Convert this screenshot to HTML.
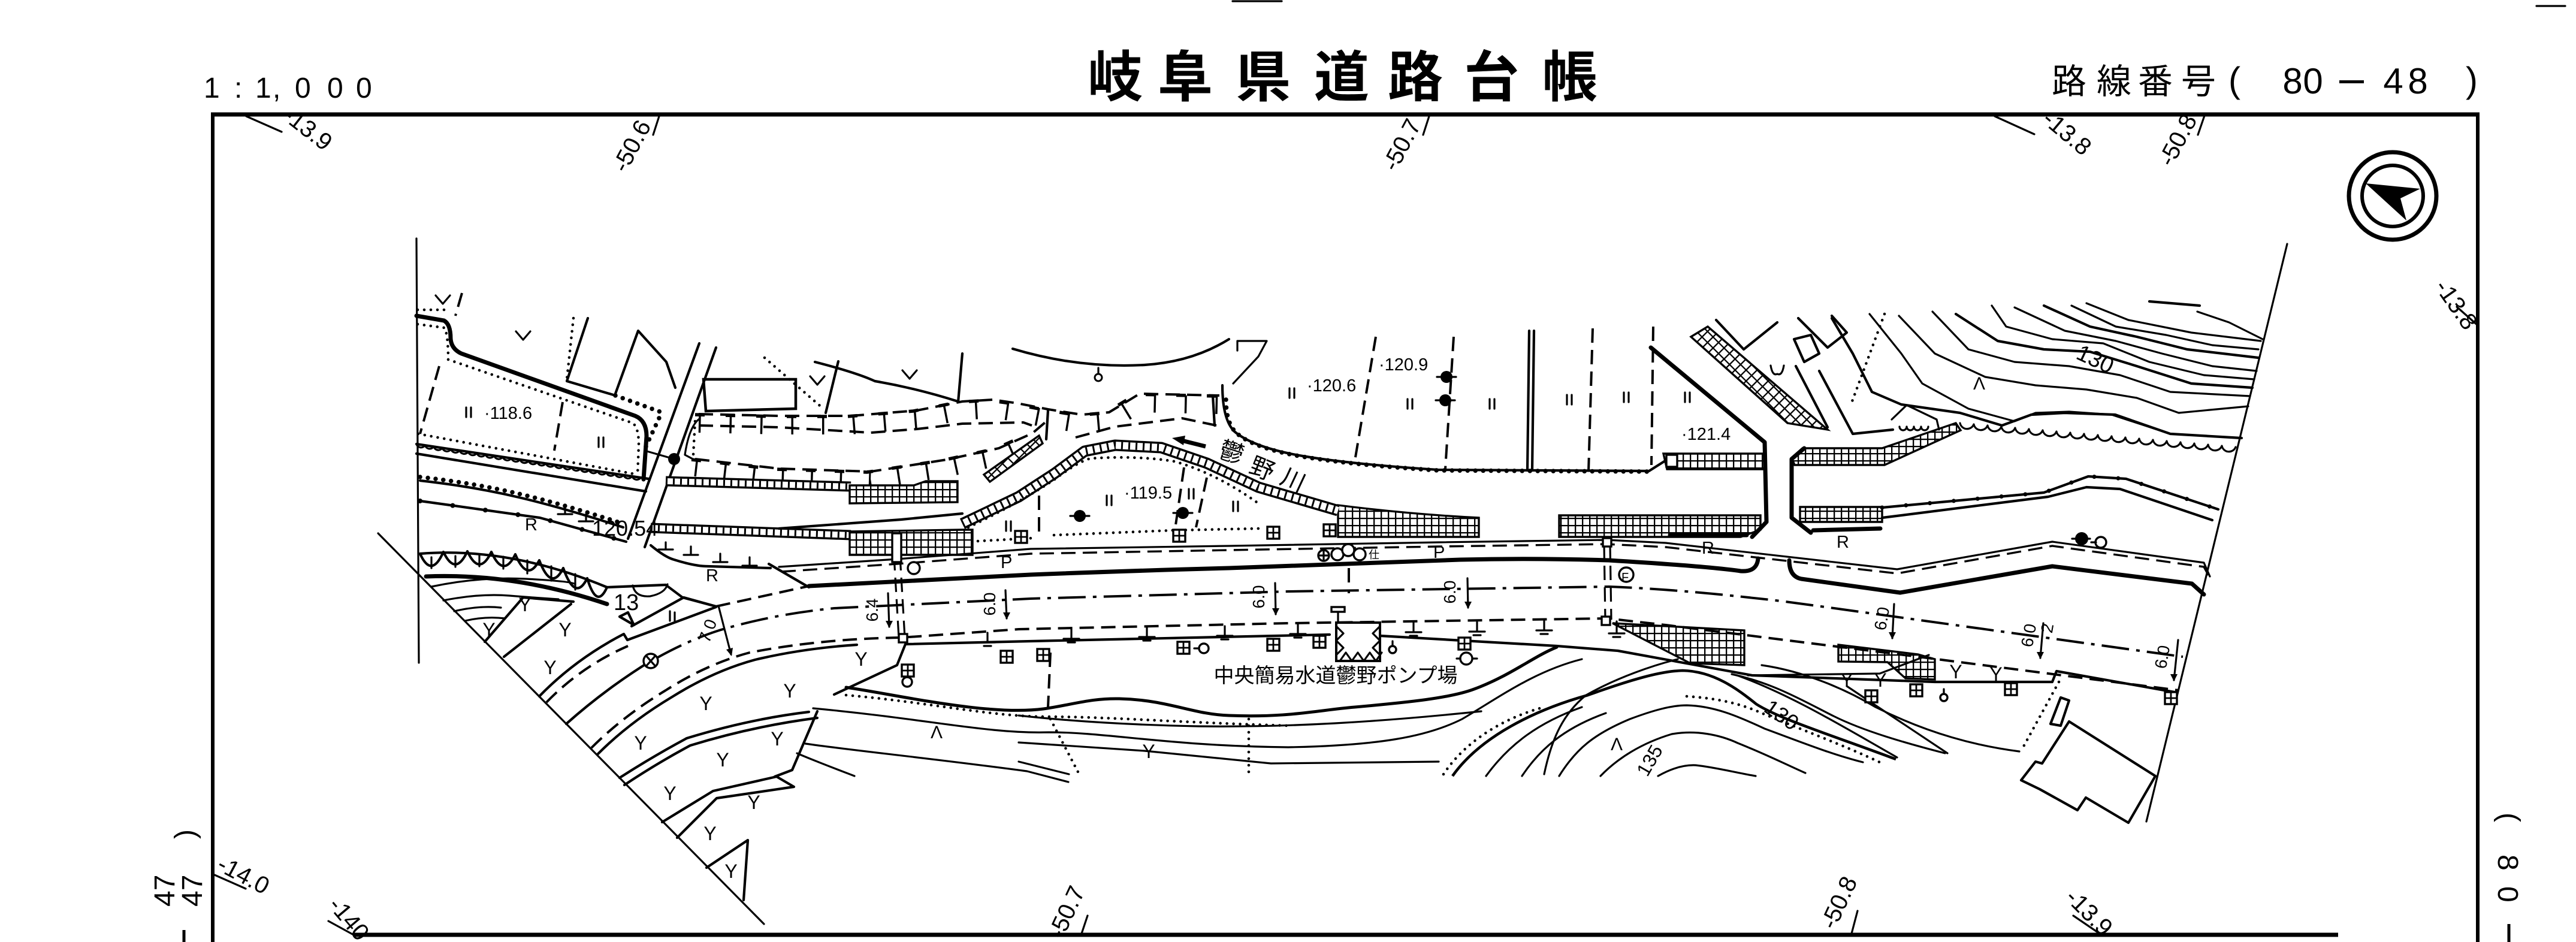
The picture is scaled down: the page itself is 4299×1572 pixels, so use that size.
<!DOCTYPE html>
<html><head><meta charset="utf-8">
<style>
html,body{margin:0;padding:0;background:#fff;}
svg{display:block;}
text{font-family:"Liberation Sans","Noto Sans CJK JP",sans-serif;fill:#000;}
.l{fill:none;stroke:#000;stroke-width:4.2;stroke-linejoin:round;stroke-linecap:round}
.t{fill:none;stroke:#000;stroke-width:3.2;stroke-linejoin:round;stroke-linecap:round}
.k{fill:none;stroke:#000;stroke-width:7;stroke-linejoin:round;stroke-linecap:round}
.d{fill:none;stroke:#000;stroke-width:4;stroke-dasharray:24 12}
.dd{fill:none;stroke:#000;stroke-width:4;stroke-dasharray:46 12 6 12}
.dt{fill:none;stroke:#000;stroke-width:4.6;stroke-dasharray:0 11;stroke-linecap:round}
.sc{fill:none;stroke:#000;stroke-width:7.5;stroke-dasharray:0 13;stroke-linecap:round}
.bl{fill:none;stroke:#000;stroke-width:8;stroke-dasharray:0 55;stroke-linecap:round}
.g{fill:url(#g);stroke:#000;stroke-width:3.4}
.gd{fill:url(#gd);stroke:#000;stroke-width:3.4}
.y{font-size:32px;text-anchor:middle}
.s{font-size:29px}
</style></head><body>
<svg width="4299" height="1572" viewBox="0 0 4299 1572" xmlns="http://www.w3.org/2000/svg">
<defs>
<pattern id="g" patternUnits="userSpaceOnUse" width="12" height="12"><rect width="12" height="12" fill="#fff"/><path d="M0 1H12M1 0V12" stroke="#000" stroke-width="2.6"/></pattern>
<pattern id="gd" patternUnits="userSpaceOnUse" width="13" height="13" patternTransform="rotate(45)"><rect width="13" height="13" fill="#fff"/><path d="M0 1H13M1 0V13" stroke="#000" stroke-width="2.6"/></pattern>
</defs>
<rect width="4299" height="1572" fill="#fff"/>

<!-- ===== HEADER ===== -->
<g font-size="48">
<text x="340" y="163">1</text><text x="391" y="163">:</text><text x="426" y="163">1</text><text x="455" y="163">,</text><text x="492" y="163">0</text><text x="546" y="163">0</text><text x="594" y="163">0</text>
</g>
<g font-size="92" font-weight="bold" text-anchor="middle" style="font-family:'Noto Sans CJK JP','Noto Sans CJK SC',sans-serif">
<text x="1861" y="161">岐</text><text x="1978" y="161">阜</text><text x="2108" y="161">県</text><text x="2239" y="161">道</text><text x="2362" y="161">路</text><text x="2489" y="161">台</text><text x="2620" y="161">帳</text>
</g>
<g font-size="58" text-anchor="middle" style="font-family:'Noto Sans CJK JP','Noto Sans CJK SC',sans-serif">
<text x="3453" y="156">路</text><text x="3528" y="156">線</text><text x="3597" y="156">番</text><text x="3669" y="156">号</text>
</g>
<g font-size="60" text-anchor="middle">
<text x="3729" y="154">(</text><text x="3826" y="156">8</text><text x="3860" y="156">0</text><text x="3994" y="156">4</text><text x="4035" y="156">8</text><text x="4125" y="154">)</text>
</g>
<rect x="3904" y="134" width="41" height="5"/>
<path class="t" d="M2057 2H2139M4233 10H4281"/>

<!-- ===== FRAME ===== -->
<path d="M352 191H4138" stroke="#000" stroke-width="7"/>
<path d="M355 188V1572" stroke="#000" stroke-width="6"/>
<path d="M4135 188V1572" stroke="#000" stroke-width="6"/>
<path d="M590 1560H3902" stroke="#000" stroke-width="7"/>

<!-- side texts -->
<g font-size="48">
<text transform="translate(337,1513) rotate(-90)">47</text>
<text transform="translate(291,1513) rotate(-90)">47</text>
<text transform="translate(325,1400) rotate(-90)">)</text>
<text transform="translate(4172,1356) rotate(90)">(</text>
<text transform="translate(4169,1426) rotate(90)">8</text>
<text transform="translate(4169,1479) rotate(90)">0</text>
</g>
<path d="M307 1552V1572M4187 1542V1572" stroke="#000" stroke-width="5"/>

<!-- grid labels -->
<g font-size="40" text-anchor="middle">
<text transform="translate(505,225) rotate(38)">-13.9</text>
<text transform="translate(1066,250) rotate(-62)">-50.6</text>
<text transform="translate(2351,248) rotate(-62)">-50.7</text>
<text transform="translate(3441,232) rotate(40)">-13.8</text>
<text transform="translate(3646,240) rotate(-62)">-50.8</text>
<text transform="translate(4088,516) rotate(55)">-13.8</text>
<text transform="translate(400,1472) rotate(28)">-14.0</text>
<text transform="translate(572,1542) rotate(50)">-140</text>
<text transform="translate(1792,1528) rotate(-65)">-50.7</text>
<text transform="translate(3081,1512) rotate(-65)">-50.8</text>
<text transform="translate(3477,1532) rotate(45)">-13.9</text>
</g>
<path class="t" d="M411 194L470 220M1100 194L1090 225M2385 194L2375 225M3329 194L3395 224M3679 193L3668 225M4100 512L4135 543M358 1460L410 1483M548 1537L590 1560M1815 1528L1805 1558M3100 1520L3090 1558M3460 1528L3507 1560"/>

<!-- compass -->
<circle cx="3993" cy="327" r="73" fill="none" stroke="#000" stroke-width="7"/>
<circle cx="3993" cy="327" r="51" fill="none" stroke="#000" stroke-width="6"/>
<path d="M3948 306L4039 315L4006 331L4016 368Z" fill="#000"/>

<!-- ===== DRAWING BOUNDARIES ===== -->
<path class="t" d="M695 398L699 1106"/>
<path class="t" d="M631 890L1275 1542"/>
<path class="t" d="M3817 407L3582 1371"/>

<!-- ===== UPPER LEFT PARCELS ===== -->
<path class="k" d="M695 527L741 535Q752 541 752 565Q753 582 770 590L1060 694Q1079 702 1079 728L1074 800"/>
<path class="dt" d="M697 541L742 547Q748 560 748 600L1056 706Q1066 714 1066 742L1064 792"/>
<path class="dt" d="M697 517L752 517"/>
<path class="d" d="M771 489L760 527M733 611L701 724M939 671L925 752"/>
<path class="dt" d="M957 531L946 633"/>
<path class="l" d="M981 531L946 636L1027 660"/>
<path class="sc" d="M1027 660L1104 688"/>
<path class="l" d="M1027 657L1065 552L1112 604L1127 647"/>
<path class="dt" d="M698 724L1064 792"/>
<path class="l" d="M695 741L1082 799"/>
<path class="t" d="M695 741a8 8 0 0 0 14.4 2.15a8 8 0 0 0 14.4 2.15a8 8 0 0 0 14.4 2.15a8 8 0 0 0 14.4 2.15a8 8 0 0 0 14.4 2.15a8 8 0 0 0 14.4 2.15a8 8 0 0 0 14.4 2.15a8 8 0 0 0 14.4 2.15a8 8 0 0 0 14.4 2.15a8 8 0 0 0 14.4 2.15a8 8 0 0 0 14.4 2.15a8 8 0 0 0 14.4 2.15a8 8 0 0 0 14.4 2.15a8 8 0 0 0 14.4 2.15a8 8 0 0 0 14.4 2.15a8 8 0 0 0 14.4 2.15a8 8 0 0 0 14.4 2.15a8 8 0 0 0 14.4 2.15a8 8 0 0 0 14.4 2.15a8 8 0 0 0 14.4 2.15a8 8 0 0 0 14.4 2.15a8 8 0 0 0 14.4 2.15a8 8 0 0 0 14.4 2.15a8 8 0 0 0 14.4 2.15a8 8 0 0 0 14.4 2.15a8 8 0 0 0 14.4 2.15"/>
<path class="l" d="M695 757L1078 820"/>
<!-- S2 -->
<path class="l" d="M701 802Q790 812 866 830T1040 880"/>
<path class="sc" transform="translate(0,-6)" d="M701 802Q790 812 866 830T1040 880"/>
<path class="l" d="M701 836L901 864L1045 904"/>
<path class="bl" d="M701 836L901 864L1045 904"/>
<!-- V marks -->
<path class="t" d="M727 493L739 507L751 493M861 553L873 567L885 553M1352 628L1364 642L1376 628M1506 618L1518 632L1530 618"/>
<path class="dt" d="M1276 597L1374 682"/>
<path class="l" d="M1399 603L1378 689M1606 590L1599 671"/>
<path class="l" d="M1360 604Q1430 622 1460 636Q1530 648 1599 670"/>
<path class="l" d="M1690 582Q1800 615 1910 609Q1990 604 2051 566"/>
<circle cx="1833" cy="630" r="6" fill="none" stroke="#000" stroke-width="3"/><path class="t" d="M1833 614V622"/>
<path d="M1174 633H1328V682L1178 686Z" fill="none" stroke="#000" stroke-width="4.5"/>
<!-- crossing -->
<path class="l" d="M1167 573L1048 899M1195 580L1076 913"/>
<path class="t" d="M1076 752L1125 766M1167 699Q1150 712 1143 759L1160 768"/>
<path class="sc" d="M1078 745L1104 689"/>
<circle cx="1125" cy="766" r="10"/>

<!-- T bands -->
<path class="d" d="M1166 691L1300 694L1420 694L1530 685L1606 670L1657 667L1698 673L1749 683L1805 692L1851 688L1902 657L2035 660"/>
<path fill="none" stroke="#000" stroke-width="30" stroke-dasharray="3.5 48" transform="translate(0,16)" d="M1166 691L1300 694L1420 694L1530 685L1606 670L1657 667L1698 673L1749 683L1805 692L1851 688L1902 657L2035 660"/>
<path fill="none" stroke="#000" stroke-width="5.5" stroke-dasharray="16 35" transform="translate(-6,1)" d="M1166 691L1300 694L1420 694L1530 685L1606 670L1657 667L1698 673L1749 683L1805 692L1851 688L1902 657L2035 660"/>
<path class="d" d="M1166 710L1300 713L1453 722L1530 716L1606 707L1708 705L1722 710"/>
<path class="d" d="M1795 730L1861 712L1973 698L2030 710"/>
<path class="l" d="M1749 685L1746 733M2024 660L2027 710"/>
<path class="d" d="M1160 766L1300 782L1453 787L1580 767L1667 748L1723 723L1750 700"/>
<path fill="none" stroke="#000" stroke-width="28" stroke-dasharray="3.5 45" transform="translate(0,15)" d="M1160 766L1300 782L1453 787L1580 767L1667 748L1723 723"/>
<path fill="none" stroke="#000" stroke-width="5.5" stroke-dasharray="16 32" transform="translate(-6,1)" d="M1160 766L1300 782L1453 787L1580 767L1667 748L1723 723"/>
<path class="dt" d="M1160 703L1157 759"/>

<!-- hatched strips -->
<path fill="none" stroke="#000" stroke-width="17" d="M1111 803L1420 812"/>
<path fill="none" stroke="#fff" stroke-width="10" d="M1111 803L1420 812"/>
<path fill="none" stroke="#000" stroke-width="10" stroke-dasharray="3 9" d="M1111 803L1420 812"/>
<path class="g" d="M1418 810L1525 810L1545 803L1598 803L1598 838L1418 840Z"/>
<path fill="none" stroke="#000" stroke-width="17" d="M1086 881L1420 893"/>
<path fill="none" stroke="#fff" stroke-width="10" d="M1086 881L1420 893"/>
<path fill="none" stroke="#000" stroke-width="10" stroke-dasharray="3 9" d="M1086 881L1420 893"/>
<path class="g" d="M1418 887L1606 884L1623 884L1623 926L1418 926Z"/>
<path class="gd" d="M1642 792L1734 727L1740 740L1652 804Z"/>
<path class="g" d="M2233 843Q2350 858 2468 864L2468 896L2233 896Z"/>
<path class="g" d="M2602 860L2938 860L2938 884L2905 896L2602 896Z"/>
<path class="g" d="M2776 757L2945 757L2945 783L2782 783Z"/>
<path class="g" d="M2990 764L3008 748L3141 748L3264 706L3272 718L3145 776L2995 776Z"/>
<path class="g" d="M3004 846L3141 846L3141 871L3004 871Z"/>
<path class="g" d="M2691 1040L2911 1052L2911 1110L2821 1107Z"/>
<path class="g" d="M3068 1076L3201 1092L3229 1100L3229 1134L3180 1132L3150 1105L3068 1104Z"/>
<path class="gd" d="M2822 562L2850 545L3050 717L2983 706Z"/>
<!-- river lower bank ladder -->
<path fill="none" stroke="#000" stroke-width="19" stroke-linejoin="round" d="M1606 874L1700 829L1760 790L1810 753L1861 743L1938 747L2014 773L2100 813L2233 852"/>
<path fill="none" stroke="#fff" stroke-width="12" stroke-linejoin="round" d="M1606 874L1700 829L1760 790L1810 753L1861 743L1938 747L2014 773L2100 813L2233 852"/>
<path fill="none" stroke="#000" stroke-width="12" stroke-dasharray="3 9" d="M1606 874L1700 829L1760 790L1810 753L1861 743L1938 747L2014 773L2100 813L2233 852"/>
<path class="l" d="M1300 882L1504 867L1606 857"/>
<path class="dt" d="M1616 880Q1700 840 1760 800Q1800 770 1820 765Q1900 760 1960 770Q2030 790 2100 840"/>
<path class="dt" d="M1632 903L1723 898M1759 893L1958 885L2100 882"/>
<path class="d" d="M1734 827L1734 893M1976 780L1961 883M2014 797L1996 880"/>

<!-- river upper bank -->
<path class="l" d="M2040 643Q2040 700 2060 720Q2093 748 2180 762Q2260 775 2400 784L2752 786L2790 762"/>
<path class="sc" transform="translate(0,7)" d="M2046 660Q2046 700 2064 716Q2093 742 2180 756Q2260 769 2400 778L2752 780"/>
<path class="t" d="M2058 640L2100 595L2114 569L2065 569M2065 569V585"/>
<!-- river arrow and name -->
<path d="M2012 745L1972 735" stroke="#000" stroke-width="7"/>
<path d="M1956 731L1978 727L1975 743Z" fill="#000"/>
<g font-size="40" text-anchor="middle" style="font-family:'Noto Sans CJK JP',sans-serif">
<text transform="translate(2051,768) rotate(18)">鬱</text>
<text transform="translate(2101,795) rotate(22)">野</text>
<text transform="translate(2152,814) rotate(25)">川</text>
</g>

<!-- parcel verticals upper middle -->
<path class="d" d="M2296 562L2261 769M2426 562L2412 783M2658 548L2651 787M2759 545L2756 776"/>
<path class="l" d="M2552 552L2549 785M2560 552L2557 785"/>

<!-- side road -->
<path class="k" d="M2755 580L2945 738L2948 871L2924 896"/>
<path class="k" d="M3011 748L2990 766L2990 864L3022 889"/>
<path class="k" d="M2787 893L2915 893M3026 885L3138 882"/>

<!-- upper right details -->
<path class="l" d="M2864 534L2910 583L2966 538"/>
<path class="l" d="M2994 566L3022 559L3036 590L3011 604Z"/>
<path class="l" d="M3001 531L3050 580L3082 555L3057 527"/>
<path class="t" d="M2955 610q3 18 11 14q8 4 11 -14"/>
<path class="l" d="M2997 611L3050 713M3036 619L3092 724L3159 717"/>
<path class="dt" d="M3145 524L3089 675"/>
<path class="t" d="M3157 700L3182 676L3232 700L3236 717M3170 712a6 6 0 0 0 12 0a6 6 0 0 0 12 0a6 6 0 0 0 12 0a6 6 0 0 0 12 0"/>
<!-- contours upper right -->
<g class="t">
<path class="l" d="M3057 531L3092 590L3124 654L3173 675L3271 689L3341 710L3390 692L3446 689L3530 692L3622 724L3741 731"/>
<path d="M3120 524L3173 590L3208 640L3285 682L3362 703L3397 689L3453 687L3524 692L3622 724"/>
<path d="M3169 527L3229 590L3313 629L3397 643L3482 650L3566 664L3636 689L3752 678"/>
<path d="M3225 520L3285 583L3362 604L3453 611L3538 626L3622 654L3755 661"/>
<path class="l" d="M3264 524L3334 569L3411 583L3488 587L3566 611L3657 640L3759 647"/>
<path d="M3324 510L3348 545L3425 566L3510 573L3587 604L3678 626L3762 633"/>
<path d="M3362 513L3446 552L3531 569L3608 590L3692 611L3766 619"/>
<path class="l" d="M3411 510L3488 545L3566 562L3650 583L3769 597"/>
<path d="M3457 510L3531 545L3615 559L3692 576L3769 583"/>
<path d="M3482 506L3552 534L3657 555L3773 569"/>
<path class="l" d="M3587 503L3671 510"/>
<path d="M3667 520L3720 538L3776 566"/>
</g>
<path class="t" d="M3271 706a12 12 0 0 0 23 2a12 12 0 0 0 23 2a12 12 0 0 0 23 2a12 12 0 0 0 23 2a12 12 0 0 0 23 2a12 12 0 0 0 23 2a12 12 0 0 0 23 2a12 12 0 0 0 23 2a12 12 0 0 0 23 2a12 12 0 0 0 23 2a12 12 0 0 0 23 2a12 12 0 0 0 23 2a12 12 0 0 0 23 2a12 12 0 0 0 23 2a12 12 0 0 0 23 2a12 12 0 0 0 23 2a12 12 0 0 0 23 2a12 12 0 0 0 23 2a12 12 0 0 0 23 2a12 12 0 0 0 23 2"/>
<text x="3496" y="612" font-size="38" transform="rotate(25 3496 601)" text-anchor="middle">130</text>
<text x="3303" y="650" font-size="30" text-anchor="middle">Λ</text>
<!-- right river lines -->
<path class="l" d="M3141 847L3411 822L3485 795L3548 799L3702 850"/>
<path class="l" d="M3141 864L3418 829L3482 813L3538 816L3692 868"/>
<path class="bl" style="stroke-dasharray:0 40;stroke-width:7" d="M3141 847L3411 822L3485 795L3548 799L3702 850"/>

<!-- ===== ROAD ===== -->
<!-- P strip -->
<path class="t" d="M1300 946L1497 933L1720 916L2051 911L2401 905L2682 901L2780 906L3166 950L3425 904L3678 939L3688 962"/>
<path class="d" style="stroke-width:3.4" d="M1304 954L1497 941L1720 924L2051 918L2401 912L2682 908L2780 913L3166 957L3425 911L3678 946L3690 968"/>
<path class="l" d="M1283 941L1350 980"/>
<!-- U -->
<path class="l" d="M900 1162Q960 1100 1041 1058L1047 1068L1195 1013"/>
<path class="d" d="M912 1172Q970 1112 1048 1078"/>
<path class="l" d="M1054 1045L1141 997L1195 1012"/>
<path class="d" d="M1195 1012L1350 978"/>
<path class="k" d="M1350 978L1720 959Q1900 952 2051 948L2437 934Q2560 931 2685 935Q2850 945 2905 953Q2932 955 2934 932"/>
<path class="k" d="M2986 935Q2986 962 3006 966L3171 989L3425 945L3658 974L3678 992"/>
<!-- center line -->
<path class="l" d="M945 1208Q1010 1150 1086 1103"/>
<path class="dd" d="M1096 1098Q1150 1068 1200 1052Q1290 1025 1392 1015L1720 999L2150 987L2685 979Q2800 983 2972 1003L3061 1015L3643 1096"/>
<!-- L lower edge -->
<path class="d" d="M987 1248Q1040 1195 1111 1152Q1180 1108 1251 1089Q1370 1066 1504 1064L1700 1050L2150 1040L2682 1032L2780 1043L3201 1096L3636 1152"/>
<path class="l" d="M998 1258Q1050 1206 1120 1164Q1190 1120 1260 1101Q1340 1082 1430 1076"/>
<path class="l" d="M1392 1159L1497 1110L1511 1075L1720 1070L2219 1059M2303 1061L2598 1078L2700 1086L2924 1127L3229 1138L3425 1138L3432 1120L3629 1155"/>
<path class="t" d="M2917 1127L3137 1124L3219 1093M3082 1145L3250 1257"/>
<!-- transverse lines -->
<path class="d" style="stroke-width:3.2" d="M1492 928L1500 1064M1502 928L1510 1064M2677 908L2679 1034M2687 908L2689 1034"/>
<rect x="1489" y="890" width="15" height="48" fill="#fff" stroke="#000" stroke-width="3.4"/>
<rect x="1500" y="1058" width="14" height="14" fill="#fff" stroke="#000" stroke-width="3.4"/>
<rect x="2675" y="898" width="14" height="14" fill="#fff" stroke="#000" stroke-width="3.4"/>
<rect x="2673" y="1029" width="14" height="14" fill="#fff" stroke="#000" stroke-width="3.4"/>
<path class="d" d="M1753 1089L1749 1180M2251 948L2251 990"/>
<!-- ⊥ markers -->
<g class="t" stroke-width="3.4">
<path d="M1648 1056v16m-13 0h26m-19 6h12"/><path d="M1788 1050v16m-13 0h26m-19 6h12"/><path d="M1914 1047v16m-13 0h26m-19 6h12"/><path d="M2044 1045v16m-13 0h26m-19 6h12"/><path d="M2166 1042v16m-13 0h26m-19 6h12"/><path d="M2359 1039v16m-13 0h26m-19 6h12"/><path d="M2465 1038v16m-13 0h26m-19 6h12"/><path d="M2577 1036v16m-13 0h26m-19 6h12"/><path d="M2698 1037v20m-13 0h26m-19 6h12"/>
<path d="M1111 905v12m-12 0h24M1153 912v14m-12 0h24M1202 924v14m-12 0h24M1251 930v14m-12 0h24M943 846v12m-12 0h24M978 858v12m-12 0h24"/>
</g>
<!-- R curve -->
<path class="l" d="M1086 910Q1110 930 1125 934Q1160 945 1181 945L1286 948"/>
<!-- squares -->
<g fill="#fff" stroke="#000" stroke-width="3.4">
<rect x="1694" y="886" width="20" height="20"/><rect x="1958" y="884" width="20" height="20"/><rect x="2115" y="879" width="20" height="20"/><rect x="2209" y="875" width="20" height="20"/><rect x="2781" y="759" width="18" height="20"/>
<rect x="1505" y="1109" width="20" height="20"/><rect x="1670" y="1086" width="20" height="20"/><rect x="1731" y="1083" width="20" height="20"/><rect x="1965" y="1071" width="20" height="20"/><rect x="2115" y="1066" width="20" height="20"/><rect x="2192" y="1061" width="20" height="20"/><rect x="2434" y="1064" width="20" height="20"/><rect x="3113" y="1152" width="20" height="20"/><rect x="3188" y="1142" width="20" height="20"/><rect x="3346" y="1140" width="20" height="20"/><rect x="3613" y="1155" width="20" height="20"/>
</g>
<path stroke="#000" stroke-width="2.8" d="M1704 886v20M1694 896h20M1968 884v20M1958 894h20M2125 879v20M2115 889h20M2219 875v20M2209 885h20M1515 1109v20M1505 1119h20M1680 1086v20M1670 1096h20M1741 1083v20M1731 1093h20M1975 1071v20M1965 1081h20M2125 1066v20M2115 1076h20M2202 1061v20M2192 1071h20M2444 1064v20M2434 1074h20M3123 1152v20M3113 1162h20M3198 1142v20M3188 1152h20M3356 1140v20M3346 1150h20M3623 1155v20M3613 1165h20"/>
<!-- circles -->
<g fill="#fff" stroke="#000" stroke-width="3.4">
<circle cx="1514" cy="1138" r="8"/><circle cx="2009" cy="1082" r="8"/><circle cx="2324" cy="1084" r="6"/><circle cx="2447" cy="1099" r="10"/>
<circle cx="2209" cy="927" r="9"/><circle cx="2232" cy="925" r="10"/><circle cx="2250" cy="918" r="10"/><circle cx="2269" cy="925" r="10"/>
<circle cx="2714" cy="959" r="12"/><circle cx="1525" cy="948" r="10"/><circle cx="1086" cy="1103" r="12"/><circle cx="3506" cy="905" r="9"/><circle cx="3244" cy="1164" r="6"/>
</g>
<path class="t" d="M1993 1082h8M2324 1070v8M2431 1099h6M2457 1099h8M3490 905h8M3244 1150v8M1078 1094l16 18M1094 1094l-16 18M2201 927h16M2209 919v16"/>
<text x="2706" y="970" font-size="20">F</text>
<text x="2284" y="932" font-size="18" style="font-family:'Noto Sans CJK JP',sans-serif">仕</text>
<g fill="#000">
<circle cx="1802" cy="861" r="10"/><circle cx="1974" cy="856" r="10"/><circle cx="2414" cy="629" r="10"/><circle cx="2412" cy="668" r="10"/><circle cx="3474" cy="899" r="11"/>
</g>
<path class="t" d="M1786 861h32M1958 856h32M2398 629h32M2396 668h32M3458 899h30"/>
<!-- pump station -->
<rect x="2230" y="1039" width="73" height="64" fill="none" stroke="#000" stroke-width="4"/>
<path class="t" d="M2230 1045l12 12l-12 12l12 12l-12 12M2303 1045l-12 12l12 12l-12 12l12 12M2236 1103l10 -14l10 14l10 -14l10 14l10 -14l10 14l10 -14"/>
<rect x="2222" y="1013" width="22" height="8" fill="none" stroke="#000" stroke-width="3.4"/>
<path class="t" d="M2233 1021V1039"/>

<!-- ===== LOWER LEFT (cliff, Y fields) ===== -->
<path class="l" d="M701 924Q850 912 1013 980"/>
<path class="l" d="M701 924Q720 966 740 921Q760 963 780 920Q800 963 820 921Q840 966 860 925Q880 973 900 935Q920 988 940 948Q960 1005 980 965Q996 1018 1013 980"/>
<path class="t" d="M720 930v18M760 928v18M800 927v18M840 929v20M880 935v22M920 945v24M960 958v26"/>
<path class="k" d="M711 962Q860 956 1013 1008"/>
<path class="l" d="M1013 980L1111 976L1139 997L1195 1012"/>
<path class="t" d="M1056 977Q1060 997 1085 995Q1110 990 1114 975"/>
<path class="l" d="M1034 1029L1058 1043L1048 1022Z"/>
<path class="t" d="M720 979Q800 962 878 966T960 975M740 1002Q800 990 850 994T932 1000M758 1020Q800 1010 836 1014M776 1036Q810 1028 843 1032"/>
<path class="l" d="M809 1071L873 997L957 1004M841 1096L953 1008"/>
<path class="l" d="M1034 1298Q1090 1262 1146 1232Q1250 1200 1350 1188"/>
<path class="l" d="M1042 1310Q1096 1274 1152 1244Q1256 1212 1364 1198"/>
<path class="l" d="M1364 1187L1322 1285L1293 1296"/>
<path class="l" d="M1105 1372L1190 1320L1296 1296L1325 1313L1196 1332L1130 1398"/>
<path class="l" d="M1179 1448L1248 1402L1241 1502"/>
<g class="y">
<text x="816" y="1062">Y</text><text x="876" y="1020">Y</text><text x="943" y="1062">Y</text><text x="918" y="1125">Y</text><text x="1178" y="1185">Y</text><text x="1318" y="1164">Y</text><text x="1437" y="1111">Y</text><text x="1069" y="1251">Y</text><text x="1206" y="1279">Y</text><text x="1297" y="1244">Y</text><text x="1118" y="1335">Y</text><text x="1258" y="1350">Y</text><text x="1185" y="1402">Y</text><text x="1220" y="1465">Y</text><text x="1917" y="1265">Y</text><text x="3082" y="1146">Y</text><text x="3138" y="1146">Y</text><text x="3264" y="1132">Y</text><text x="3331" y="1136">Y</text>
</g>

<!-- ===== CONTOURS LOWER MIDDLE ===== -->
<path fill="none" stroke="#000" stroke-width="5" stroke-linecap="round" d="M1412 1147C1500 1160 1650 1195 1741 1183C1790 1176 1820 1165 1868 1166C1950 1168 1990 1192 2051 1194C2150 1198 2200 1185 2261 1180C2350 1172 2420 1165 2460 1150C2520 1128 2560 1095 2598 1080"/>
<path class="dt" d="M1412 1160C1550 1172 1650 1195 1741 1196C1850 1196 1950 1205 2150 1211"/>
<path class="t" d="M1357 1182C1550 1200 1650 1225 1750 1222C1850 1222 1950 1245 2150 1247C2300 1244 2380 1230 2440 1200C2500 1165 2560 1120 2640 1100"/>
<path class="t" d="M1700 1194C1800 1205 1900 1210 2000 1212C2150 1214 2300 1205 2472 1187"/>
<path class="t" d="M1344 1241C1420 1252 1550 1265 1714 1287L1783 1305M1330 1257C1360 1270 1400 1285 1426 1295"/>
<path class="t" d="M1700 1239L1910 1253L2121 1274L2401 1271M1700 1271L1784 1292"/>
<path class="dt" d="M2084 1200L2084 1292M1753 1200L1800 1290"/>
<text x="1563" y="1232" font-size="30" text-anchor="middle">Λ</text>
<!-- hill -->
<path class="dt" d="M2409 1292C2450 1230 2520 1195 2577 1180"/>
<path fill="none" stroke="#000" stroke-width="4.6" d="M2424 1295C2470 1230 2560 1185 2650 1160C2720 1135 2770 1120 2808 1119C2860 1120 2900 1150 2931 1175C2970 1200 3060 1228 3164 1267"/>
<path class="t" d="M2602 1295C2630 1250 2660 1225 2720 1200C2760 1185 2790 1177 2815 1177C2860 1178 2900 1195 2945 1216C3010 1240 3060 1260 3109 1272"/>
<path class="t" d="M2671 1295C2700 1265 2740 1240 2790 1225C2830 1218 2870 1226 2900 1240C2950 1260 2990 1280 3013 1290"/>
<path class="t" d="M2767 1295C2790 1282 2810 1276 2830 1277C2860 1280 2900 1290 2930 1295"/>
<path class="t" d="M2480 1295C2520 1240 2570 1205 2640 1180M2540 1295C2570 1250 2610 1215 2680 1190M2577 1292C2590 1230 2610 1190 2647 1160C2700 1130 2760 1110 2800 1100"/>
<path class="t" d="M2890 1125C2960 1140 3010 1170 3060 1195C3110 1220 3180 1240 3246 1257M2940 1110C3010 1120 3080 1150 3130 1180C3220 1225 3300 1245 3370 1254"/>
<path class="dt" d="M2815 1162C2860 1165 2900 1172 2940 1190C3000 1215 3080 1245 3137 1272"/>
<text x="2972" y="1205" font-size="36" transform="rotate(35 2972 1195)" text-anchor="middle">130</text>
<text x="2753" y="1280" font-size="32" transform="rotate(-60 2753 1269)" text-anchor="middle">135</text>
<text x="2698" y="1252" font-size="30" text-anchor="middle">Λ</text>
<!-- building lower right -->
<path class="l" d="M3453 1204L3597 1295L3552 1373L3481 1331L3467 1352L3404 1317L3373 1302L3397 1271L3408 1274Z"/>
<path class="l" d="M3422 1208L3439 1211L3453 1169L3439 1164Z"/>
<path class="dt" d="M3436 1138L3373 1253"/>
<path class="t" d="M2899 1127C2990 1160 3080 1215 3166 1264"/>

<!-- ===== LABELS ===== -->
<path class="t" d="M778 680v16M786 680v16M999 730v16M1007 730v16M1679 870v16M1687 870v16M1847 827v16M1855 827v16M1984 816v16M1992 816v16M2058 837v16M2066 837v16M2152 648v16M2160 648v16M2349 666v16M2357 666v16M2486 666v16M2494 666v16M2615 659v16M2623 659v16M2710 655v16M2718 655v16M2812 655v16M2820 655v16M1118 1020v16M1126 1022v14"/>
<g class="s">
<text x="808" y="699">·118.6</text>
<text x="1876" y="832">·119.5</text>
<text x="2301" y="618">·120.9</text>
<text x="2181" y="653">·120.6</text>
<text x="2806" y="734">·121.4</text>
<text x="876" y="885">R</text><text x="1178" y="970">R</text><text x="2840" y="924">R</text><text x="3065" y="914">R</text>
<text x="1670" y="948">P</text><text x="2392" y="931">P</text>
</g>
<text x="988" y="894" font-size="36">120.54</text>
<text x="1024" y="1018" font-size="38">13</text>
<text x="2229" y="1139" font-size="34" text-anchor="middle" style="font-family:'Noto Sans CJK JP',sans-serif">中央簡易水道鬱野ポンプ場</text>
<!-- width markers -->
<g font-size="28" text-anchor="middle">
<text transform="translate(1465,1018) rotate(-90)">6.4</text>
<text transform="translate(1661,1008) rotate(-90)">6.0</text>
<text transform="translate(2110,996) rotate(-90)">6.0</text>
<text transform="translate(2429,988) rotate(-90)">6.0</text>
<text transform="translate(3150,1034) rotate(-80)">6.0</text>
<text transform="translate(3395,1062) rotate(-80)">6.0</text>
<text transform="translate(3426,1050) rotate(-80)">2</text>
<text transform="translate(3618,1098) rotate(-80)">6.0</text>
<text transform="translate(1190,1056) rotate(-70)">7.0</text>
</g>
<path class="t" d="M1482 990L1484 1046M1678 985L1680 1032M2128 973L2129 1025M2449 965L2450 1014M3161 1008L3158 1065M3410 1040L3405 1098M3635 1068L3628 1135M1199 1011L1220 1092"/>
<path d="M1484 1048l-6 -12h12zM1680 1034l-6 -12h12zM2129 1027l-6 -12h12zM2450 1016l-6 -12h12zM3158 1067l-6 -12h12zM3405 1100l-6 -12h12zM3628 1137l-6 -12h12zM1221 1095l-9 -11l11 -3z" fill="#000"/>
</svg>
</body></html>
